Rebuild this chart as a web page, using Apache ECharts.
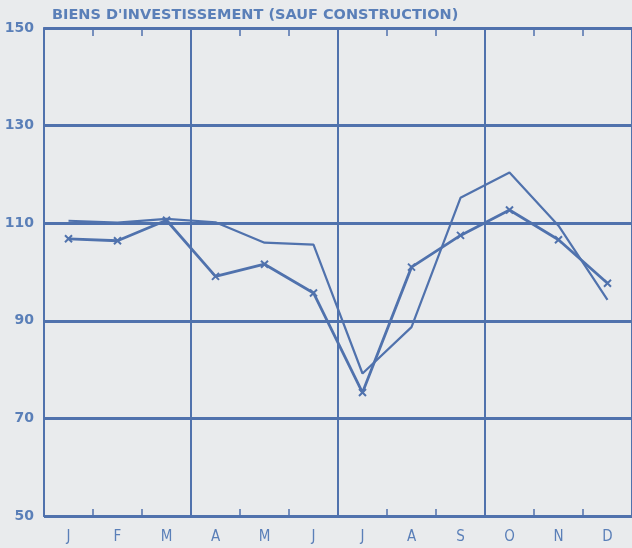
<!DOCTYPE html>
<html><head><meta charset="utf-8">
<script src="https://cdn.jsdelivr.net/npm/echarts@6/dist/echarts.min.js"></script>
<style>html,body{margin:0;padding:0;background:#e9ebed;}#c{width:632px;height:548px;}</style>
</head><body><div id="c"></div>
<script>
var title = "BIENS D'INVESTISSEMENT (SAUF CONSTRUCTION)";
var months = ['J','F','M','A','M','J','J','A','S','O','N','D'];
var yTicks = [50,70,90,110,130,150];
var seriesMarked = [106.8, 106.4, 110.6, 99.1, 101.6, 95.7, 75.3, 101.0, 107.5, 112.7, 106.6, 97.7];
var seriesPlain  = [110.5, 110.1, 110.9, 110.2, 106.0, 105.6, 79.2, 88.7, 115.2, 120.4, 109.5, 94.3];

var C = '#5072ad';
var T = '#5a7fb8';
var chart = echarts.init(document.getElementById('c'), null, {renderer:'canvas'});
chart.setOption({
  backgroundColor: '#e9ebed',
  animation: false,
  title: {
    text: title, left: 47, top: 3,
    textStyle: {color: T, fontFamily: 'DejaVu Sans', fontWeight: 'bold', fontSize: 14.5}
  },
  grid: {left: 44, top: 28, right: 0, bottom: 32, containLabel: false},
  xAxis: [{
    type: 'category', data: months, boundaryGap: true, position: 'bottom',
    axisLine: {show: true, lineStyle: {color: C, width: 2}},
    axisTick: {show: true, inside: true, length: 7, lineStyle: {color: C, width: 1.5}},
    axisLabel: {color: T, fontFamily: 'Liberation Sans Narrow, DejaVu Sans Condensed, sans-serif', fontSize: 15, margin: 14},
    splitLine: {show: true, interval: 2, lineStyle: {color: C, width: 2}}
  }, {
    type: 'category', data: months, boundaryGap: true, position: 'top',
    axisLine: {show: true, lineStyle: {color: C, width: 1.5}},
    axisTick: {show: true, inside: true, length: 8, lineStyle: {color: C, width: 1.5}},
    axisLabel: {show: false}, splitLine: {show: false}
  }],
  yAxis: {
    type: 'value', min: 50, max: 150, interval: 20,
    axisLine: {show: true, lineStyle: {color: C, width: 2}},
    axisTick: {show: false},
    axisLabel: {color: T, fontFamily: 'DejaVu Sans', fontWeight: 'bold', fontSize: 14, margin: 10,
      formatter: function(v){ return yTicks.indexOf(v) >= 0 ? String(v) : ''; }},
    splitLine: {show: true, lineStyle: {color: C, width: 3}}
  },
  series: [{
    type: 'line', data: seriesPlain, symbol: 'none',
    lineStyle: {color: C, width: 2.2}, z: 3
  }, {
    type: 'line', data: seriesMarked,
    symbol: 'path://M0,0L10,10M10,0L0,10', symbolSize: 7,
    itemStyle: {color: C, borderColor: C, borderWidth: 2},
    lineStyle: {color: C, width: 2.8}, z: 4
  }]
});
</script></body></html>
